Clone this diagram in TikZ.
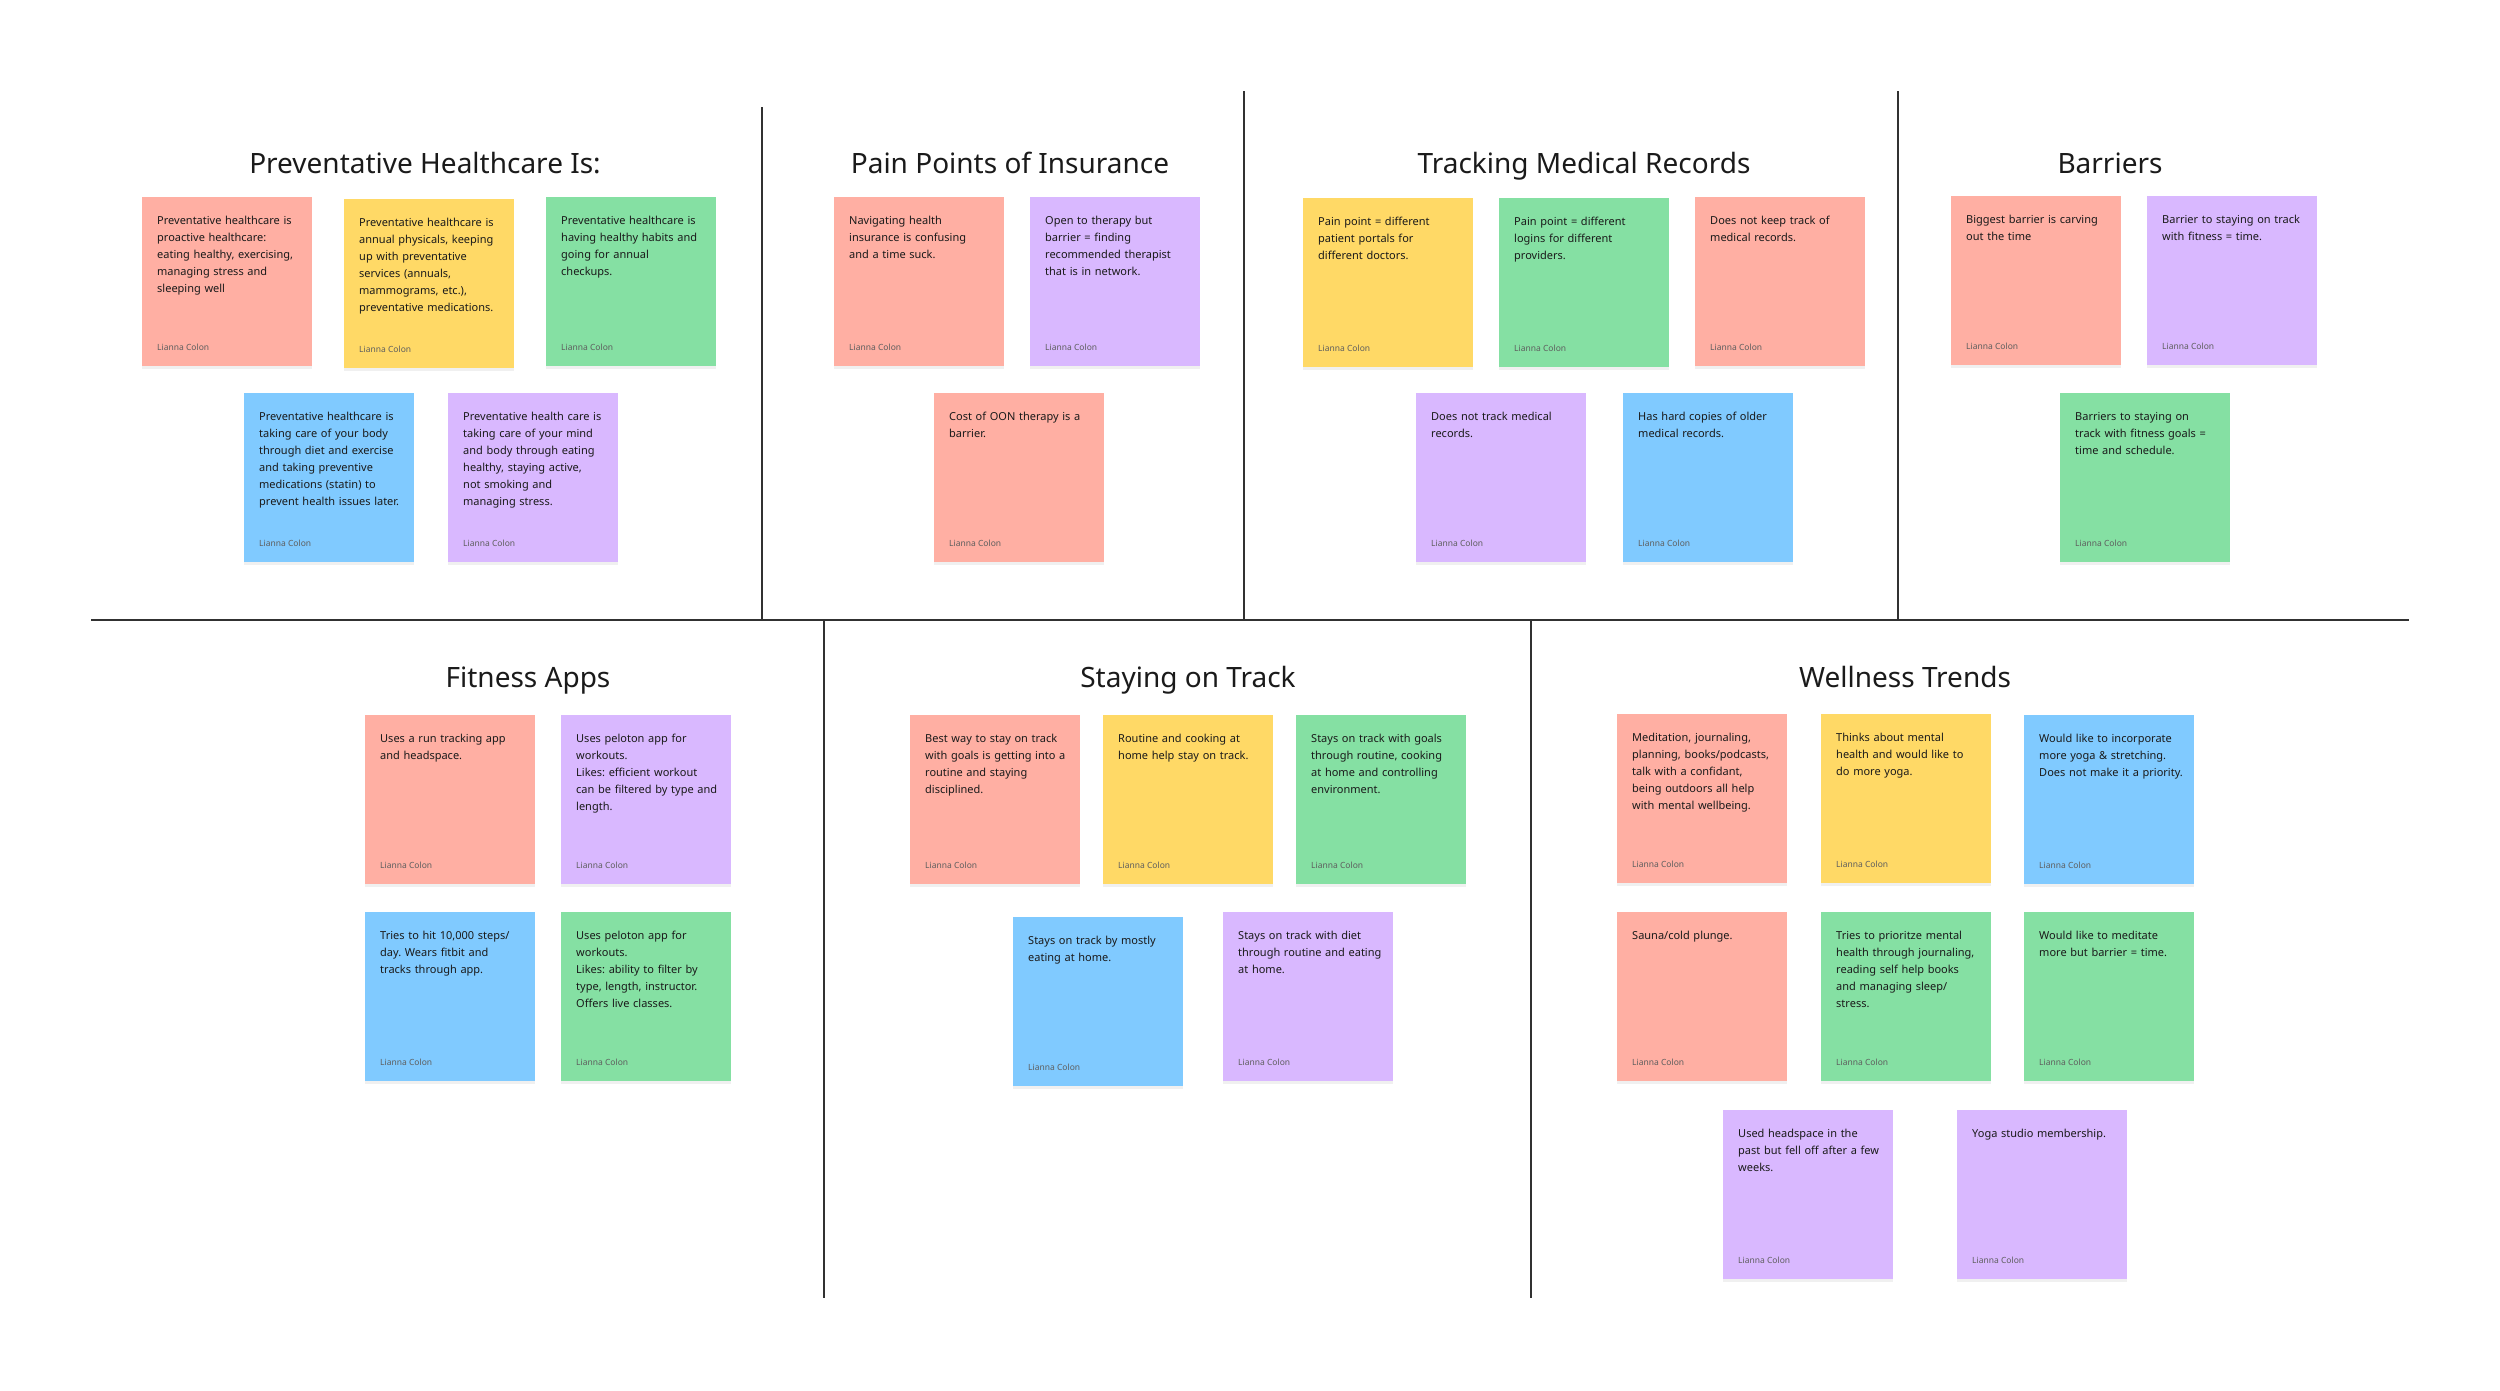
\documentclass[tikz,border=0pt]{standalone}
\usepackage{fontspec}
\setmainfont{Noto Sans}
\usetikzlibrary{shadows}
\frenchspacing
\definecolor{notered}{HTML}{FFAFA3}
\definecolor{noteyellow}{HTML}{FFD966}
\definecolor{notegreen}{HTML}{85E0A3}
\definecolor{noteblue}{HTML}{80CAFF}
\definecolor{notepurple}{HTML}{D9B8FF}
\definecolor{inkdark}{HTML}{1A1A1A}
\definecolor{inkgray}{HTML}{5E5E5E}
\tikzset{
    sticky/.style={
        rectangle,
        anchor=north west,
        minimum width=170pt,
        minimum height=169pt,
        inner sep=0,
        drop shadow={shadow xshift=0pt, shadow yshift=-3pt, opacity=0.12} % 便签阴影
    },
    stickytext/.style={
        anchor=base west,
        text width=148pt,
        align=left,
        inner sep=0,
        text=inkdark,
        font=\fontsize{11}{17}\selectfont
    },
    stickyname/.style={
        anchor=base west,
        inner sep=0,
        text=inkgray,
        font=\fontsize{8.5}{10}\selectfont
    },
    heading/.style={
        anchor=base,
        inner sep=0,
        text=inkdark,
        font=\fontsize{28}{34}\selectfont
    },
    divider/.style={
        draw=inkdark!90,
        line width=2pt
    }
}
% 便签: 名称, 颜色, x, y, 内容
\newcommand{\stickynote}[5]{%
    \node[sticky, fill=#2] (#1) at (#3,#4) {};
    \node[stickytext] (#1-text) at ([xshift=15pt, yshift=-27pt]#1.north west) {#5};
    \node[stickyname] (#1-name) at ([xshift=15pt, yshift=16pt]#1.south west) {Lianna Colon};
}

\begin{document}
\begin{tikzpicture}[x=1pt, y=-1pt]
    \useasboundingbox (0,0) rectangle (2500,1390);
    % 分隔线
    \draw[divider] (91,620) -- (2409,620);
    \draw[divider] (762,107) -- (762,620);
    \draw[divider] (1244,91) -- (1244,620);
    \draw[divider] (1898,91) -- (1898,620);
    \draw[divider] (824,620) -- (824,1298);
    \draw[divider] (1531,620) -- (1531,1298);

    % 上排
    \node[heading] (prevtitle) at (425,173) {Preventative Healthcare Is:};
    \stickynote{prev1}{notered}{142}{197}{Preventative healthcare is\\proactive healthcare:\\eating healthy, exercising,\\managing stress and\\sleeping well}
    \stickynote{prev2}{noteyellow}{344}{199}{Preventative healthcare is\\annual physicals, keeping\\up with preventative\\services (annuals,\\mammograms, etc.),\\preventative medications.}
    \stickynote{prev3}{notegreen}{546}{197}{Preventative healthcare is\\having healthy habits and\\going for annual\\checkups.}
    \stickynote{prev4}{noteblue}{244}{393}{Preventative healthcare is\\taking care of your body\\through diet and exercise\\and taking preventive\\medications (statin) to\\prevent health issues later.}
    \stickynote{prev5}{notepurple}{448}{393}{Preventative health care is\\taking care of your mind\\and body through eating\\healthy, staying active,\\not smoking and\\managing stress.}

    \node[heading] (paintitle) at (1010,173) {Pain Points of Insurance};
    \stickynote{pain1}{notered}{834}{197}{Navigating health\\insurance is confusing\\and a time suck.}
    \stickynote{pain2}{notepurple}{1030}{197}{Open to therapy but\\barrier = finding\\recommended therapist\\that is in network.}
    \stickynote{pain3}{notered}{934}{393}{Cost of OON therapy is a\\barrier.}

    \node[heading] (rectitle) at (1584,173) {Tracking Medical Records};
    \stickynote{rec1}{noteyellow}{1303}{198}{Pain point = different\\patient portals for\\different doctors.}
    \stickynote{rec2}{notegreen}{1499}{198}{Pain point = different\\logins for different\\providers.}
    \stickynote{rec3}{notered}{1695}{197}{Does not keep track of\\medical records.}
    \stickynote{rec4}{notepurple}{1416}{393}{Does not track medical\\records.}
    \stickynote{rec5}{noteblue}{1623}{393}{Has hard copies of older\\medical records.}

    \node[heading] (bartitle) at (2110,173) {Barriers};
    \stickynote{bar1}{notered}{1951}{196}{Biggest barrier is carving\\out the time}
    \stickynote{bar2}{notepurple}{2147}{196}{Barrier to staying on track\\with fitness = time.}
    \stickynote{bar3}{notegreen}{2060}{393}{Barriers to staying on\\track with fitness goals =\\time and schedule.}

    % 下排
    \node[heading] (fittitle) at (528,687) {Fitness Apps};
    \stickynote{fit1}{notered}{365}{715}{Uses a run tracking app\\and headspace.}
    \stickynote{fit2}{notepurple}{561}{715}{Uses peloton app for\\workouts.\\Likes: efficient workout\\can be filtered by type and\\length.}
    \stickynote{fit3}{noteblue}{365}{912}{Tries to hit 10,000 steps/\\day. Wears fitbit and\\tracks through app.}
    \stickynote{fit4}{notegreen}{561}{912}{Uses peloton app for\\workouts.\\Likes: ability to filter by\\type, length, instructor.\\Offers live classes.}

    \node[heading] (tracktitle) at (1188,687) {Staying on Track};
    \stickynote{track1}{notered}{910}{715}{Best way to stay on track\\with goals is getting into a\\routine and staying\\disciplined.}
    \stickynote{track2}{noteyellow}{1103}{715}{Routine and cooking at\\home help stay on track.}
    \stickynote{track3}{notegreen}{1296}{715}{Stays on track with goals\\through routine, cooking\\at home and controlling\\environment.}
    \stickynote{track4}{noteblue}{1013}{917}{Stays on track by mostly\\eating at home.}
    \stickynote{track5}{notepurple}{1223}{912}{Stays on track with diet\\through routine and eating\\at home.}

    \node[heading] (welltitle) at (1905,687) {Wellness Trends};
    \stickynote{well1}{notered}{1617}{714}{Meditation, journaling,\\planning, books/podcasts,\\talk with a confidant,\\being outdoors all help\\with mental wellbeing.}
    \stickynote{well2}{noteyellow}{1821}{714}{Thinks about mental\\health and would like to\\do more yoga.}
    \stickynote{well3}{noteblue}{2024}{715}{Would like to incorporate\\more yoga \& stretching.\\Does not make it a priority.}
    \stickynote{well4}{notered}{1617}{912}{Sauna/cold plunge.}
    \stickynote{well5}{notegreen}{1821}{912}{Tries to prioritze mental\\health through journaling,\\reading self help books\\and managing sleep/\\stress.}
    \stickynote{well6}{notegreen}{2024}{912}{Would like to meditate\\more but barrier = time.}
    \stickynote{well7}{notepurple}{1723}{1110}{Used headspace in the\\past but fell off after a few\\weeks.}
    \stickynote{well8}{notepurple}{1957}{1110}{Yoga studio membership.}
\end{tikzpicture}
\end{document}
